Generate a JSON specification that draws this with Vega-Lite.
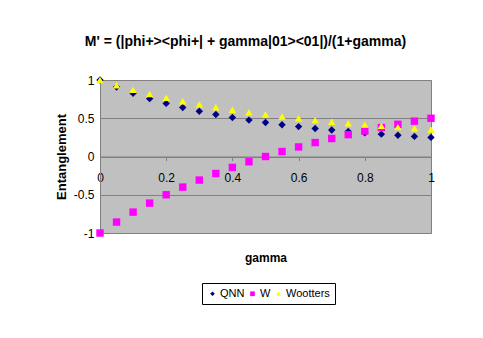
{
  "$schema": "https://vega.github.io/schema/vega-lite/v6.json",
  "width": 331,
  "height": 153,
  "autosize": "none",
  "padding": {"left": 100, "top": 80, "right": 52, "bottom": 105},
  "background": "#ffffff",
  "title": {
    "text": "M' = (|phi+><phi+| + gamma|01><01|)/(1+gamma)",
    "font": "Liberation Sans",
    "fontSize": 14,
    "fontWeight": "bold",
    "color": "#000000",
    "anchor": "middle",
    "baseline": "alphabetic",
    "offset": 14,
    "dx": -20
  },
  "config": {
    "view": {"fill": "#C0C0C0", "stroke": "#808080", "strokeWidth": 1},
    "font": "Liberation Sans"
  },
  "data": {
    "values": [
      {"g": 0, "s": "QNN", "v": 1},
      {"g": 0.05, "s": "QNN", "v": 0.907},
      {"g": 0.1, "s": "QNN", "v": 0.826},
      {"g": 0.15, "s": "QNN", "v": 0.756},
      {"g": 0.2, "s": "QNN", "v": 0.694},
      {"g": 0.25, "s": "QNN", "v": 0.64},
      {"g": 0.3, "s": "QNN", "v": 0.592},
      {"g": 0.35, "s": "QNN", "v": 0.549},
      {"g": 0.4, "s": "QNN", "v": 0.51},
      {"g": 0.45, "s": "QNN", "v": 0.476},
      {"g": 0.5, "s": "QNN", "v": 0.444},
      {"g": 0.55, "s": "QNN", "v": 0.416},
      {"g": 0.6, "s": "QNN", "v": 0.391},
      {"g": 0.65, "s": "QNN", "v": 0.367},
      {"g": 0.7, "s": "QNN", "v": 0.346},
      {"g": 0.75, "s": "QNN", "v": 0.327},
      {"g": 0.8, "s": "QNN", "v": 0.309},
      {"g": 0.85, "s": "QNN", "v": 0.292},
      {"g": 0.9, "s": "QNN", "v": 0.277},
      {"g": 0.95, "s": "QNN", "v": 0.263},
      {"g": 1, "s": "QNN", "v": 0.25},
      {"g": 0, "s": "W", "v": -1},
      {"g": 0.05, "s": "W", "v": -0.857},
      {"g": 0.1, "s": "W", "v": -0.727},
      {"g": 0.15, "s": "W", "v": -0.609},
      {"g": 0.2, "s": "W", "v": -0.5},
      {"g": 0.25, "s": "W", "v": -0.4},
      {"g": 0.3, "s": "W", "v": -0.308},
      {"g": 0.35, "s": "W", "v": -0.222},
      {"g": 0.4, "s": "W", "v": -0.143},
      {"g": 0.45, "s": "W", "v": -0.069},
      {"g": 0.5, "s": "W", "v": 0},
      {"g": 0.55, "s": "W", "v": 0.065},
      {"g": 0.6, "s": "W", "v": 0.125},
      {"g": 0.65, "s": "W", "v": 0.182},
      {"g": 0.7, "s": "W", "v": 0.235},
      {"g": 0.75, "s": "W", "v": 0.286},
      {"g": 0.8, "s": "W", "v": 0.333},
      {"g": 0.85, "s": "W", "v": 0.378},
      {"g": 0.9, "s": "W", "v": 0.421},
      {"g": 0.95, "s": "W", "v": 0.462},
      {"g": 1, "s": "W", "v": 0.5},
      {"g": 0, "s": "Wootters", "v": 1},
      {"g": 0.05, "s": "Wootters", "v": 0.932},
      {"g": 0.1, "s": "Wootters", "v": 0.871},
      {"g": 0.15, "s": "Wootters", "v": 0.816},
      {"g": 0.2, "s": "Wootters", "v": 0.767},
      {"g": 0.25, "s": "Wootters", "v": 0.722},
      {"g": 0.3, "s": "Wootters", "v": 0.681},
      {"g": 0.35, "s": "Wootters", "v": 0.644},
      {"g": 0.4, "s": "Wootters", "v": 0.61},
      {"g": 0.45, "s": "Wootters", "v": 0.579},
      {"g": 0.5, "s": "Wootters", "v": 0.55},
      {"g": 0.55, "s": "Wootters", "v": 0.524},
      {"g": 0.6, "s": "Wootters", "v": 0.499},
      {"g": 0.65, "s": "Wootters", "v": 0.476},
      {"g": 0.7, "s": "Wootters", "v": 0.455},
      {"g": 0.75, "s": "Wootters", "v": 0.435},
      {"g": 0.8, "s": "Wootters", "v": 0.417},
      {"g": 0.85, "s": "Wootters", "v": 0.4},
      {"g": 0.9, "s": "Wootters", "v": 0.384},
      {"g": 0.95, "s": "Wootters", "v": 0.369},
      {"g": 1, "s": "Wootters", "v": 0.354}
    ]
  },
  "mark": {"type": "point", "filled": true, "opacity": 1, "size": 55},
  "encoding": {
    "x": {
      "field": "g",
      "type": "quantitative",
      "scale": {"domain": [0, 1], "nice": false, "zero": false},
      "axis": {
        "title": "gamma",
        "titleFont": "Liberation Sans",
        "titleFontSize": 12,
        "titleFontWeight": "bold",
        "titleColor": "#000000",
        "titleBaseline": "alphabetic",
        "titleY": 105,
        "offset": -76.5,
        "values": [0, 0.2, 0.4, 0.6, 0.8, 1],
        "labelExpr": "toString(datum.value)",
        "labelFont": "Liberation Sans",
        "labelFontSize": 12,
        "labelColor": "#000000",
        "labelPadding": 12,
        "labelFlush": false,
        "labelBaseline": "top",
        "domainColor": "#808080",
        "tickColor": "#808080",
        "tickSize": 4,
        "grid": false
      }
    },
    "y": {
      "field": "v",
      "type": "quantitative",
      "scale": {"domain": [-1, 1], "nice": false, "zero": false},
      "axis": {
        "title": "Entanglement",
        "titleFont": "Liberation Sans",
        "titleFontSize": 13,
        "titleFontWeight": "bold",
        "titleColor": "#000000",
        "titlePadding": 5,
        "values": [-1, -0.5, 0, 0.5, 1],
        "labelExpr": "toString(datum.value)",
        "labelFont": "Liberation Sans",
        "labelFontSize": 12,
        "labelColor": "#000000",
        "labelPadding": 6,
        "labelFlush": false,
        "ticks": false,
        "domainColor": "#808080",
        "grid": true,
        "gridColor": "#808080",
        "gridOpacity": 1,
        "gridWidth": 1
      }
    },
    "color": {
      "field": "s",
      "type": "nominal",
      "scale": {"domain": ["QNN", "W", "Wootters"], "range": ["#000080", "#FF00FF", "#FFFF00"]},
      "legend": {
        "title": null,
        "orient": "none",
        "direction": "horizontal",
        "legendX": 102,
        "legendY": 203,
        "strokeColor": "#000000",
        "padding": 5,
        "labelFont": "Liberation Sans",
        "labelFontSize": 11,
        "labelColor": "#000000",
        "labelOffset": 2,
        "columnPadding": 2,
        "symbolSize": 22
      }
    },
    "shape": {
      "field": "s",
      "type": "nominal",
      "scale": {"domain": ["QNN", "W", "Wootters"], "range": ["diamond", "square", "triangle-up"]}
    }
  }
}
